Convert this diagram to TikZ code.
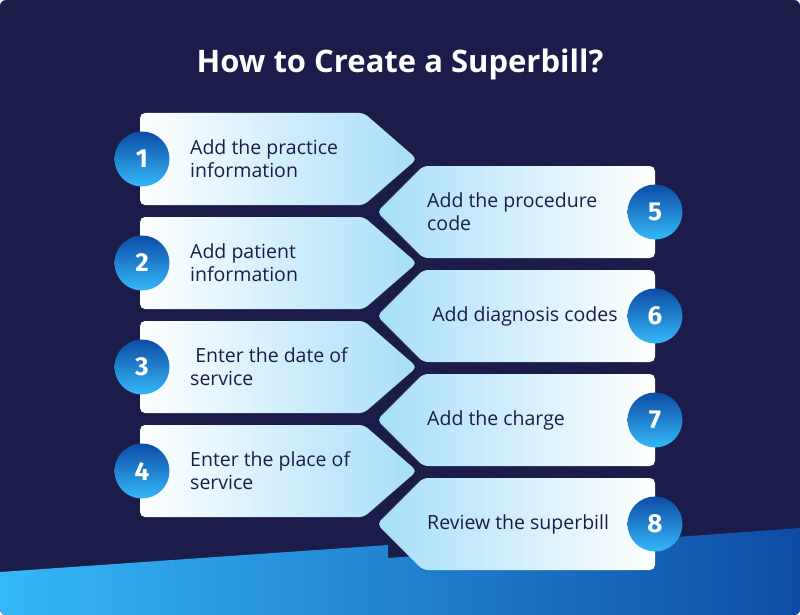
\documentclass[tikz,border=0pt]{standalone}
\usepackage{fontspec}
\setmainfont{Open Sans}
\newfontfamily\numfont{Fira Sans}
\usetikzlibrary{positioning}
\definecolor{navy}{HTML}{1C1C4A}
\definecolor{skyblue}{HTML}{A6DEF9}
\definecolor{deepblue}{HTML}{0D4CA6}
\definecolor{brightblue}{HTML}{35B8F8}

\tikzset{
  lbox/.style={rounded corners=5pt, left color=white, right color=skyblue},
  rbox/.style={rounded corners=5pt, left color=skyblue, right color=white},
  num/.style={circle, minimum size=55pt, inner sep=0pt, top color=deepblue, bottom color=brightblue,
    text=white, font=\numfont\bfseries\fontsize{26}{26}\selectfont},
  steptext/.style={text=navy, font=\fontsize{19.5}{23}\selectfont, align=left, anchor=west, inner sep=2pt}
}

\begin{document}
\begin{tikzpicture}[x=1pt,y=-1pt]
    % Background
    \fill[navy, rounded corners=6pt] (0,0) rectangle (800,615);
    \useasboundingbox (0,0) rectangle (800,615);
    \begin{scope}
      \clip[rounded corners=6pt] (0,0) rectangle (800,615);
      \shade[left color=brightblue, right color=deepblue]
        (0,572) -- (388,545) -- (388,558) -- (800,528) -- (800,615) -- (0,615) -- cycle;
    \end{scope}

    % Title
    \node[text=white, font=\bfseries\fontsize{31}{34}\selectfont] (title) at (400,64) {How to Create a Superbill?};

    % Left steps
    \foreach \i/\txt in {1/{Add the practice\\information}, 2/{Add patient\\information},
                         3/{\ Enter the date of\\service}, 4/{Enter the place of\\service}} {
      \pgfmathsetmacro{\y}{113+104*(\i-1)}
      \shade[lbox] (140,\y) -- (364,\y) -- (417,\y+46) -- (364,\y+92) -- (140,\y+92) -- cycle;
      \node[steptext] (l\i) at (188,\y+46) {\txt};
      \node[num] (n\i) at (142,\y+46) {\i};
    }

    % Right steps
    \foreach \i/\txt in {5/{Add the procedure\\code}, 6/{\ Add diagnosis codes},
                         7/{Add the charge}, 8/{Review the superbill}} {
      \pgfmathsetmacro{\y}{166+104*(\i-5)}
      \shade[rbox] (377,\y+46) -- (423,\y) -- (655,\y) -- (655,\y+92) -- (423,\y+92) -- cycle;
      \node[steptext] (r\i) at (425,\y+46) {\txt};
      \node[num] (n\i) at (655,\y+46) {\i};
    }
\end{tikzpicture}
\end{document}
